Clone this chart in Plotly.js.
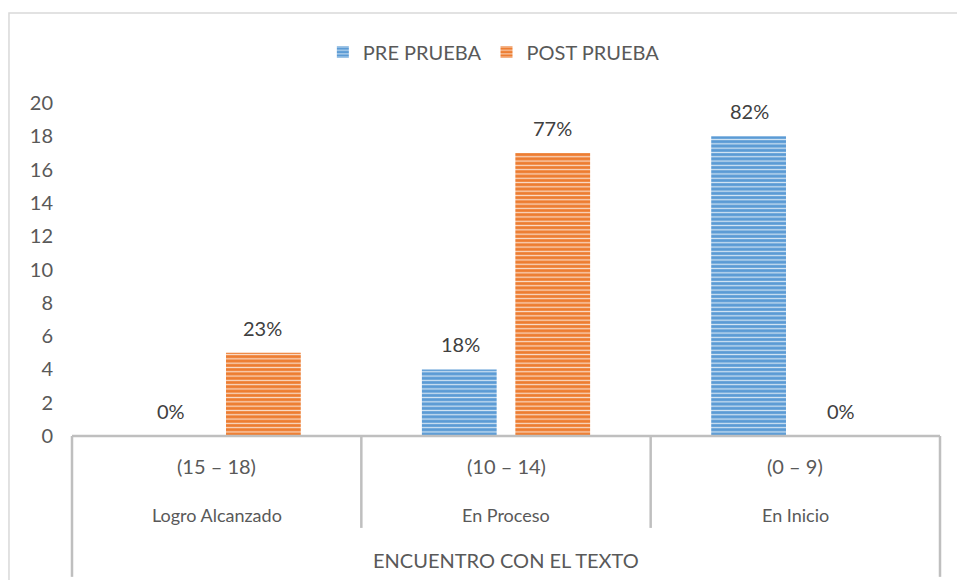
<!DOCTYPE html>
<html>
<head>
<meta charset="utf-8">
<script src="https://cdn.plot.ly/plotly-3.0.1.min.js"></script>
<style>html,body{margin:0;padding:0;background:#fff;}#chart{width:957px;height:580px;}</style>
</head>
<body>
<div id="chart"></div>
<script>
const categories = ["Logro Alcanzado", "En Proceso", "En Inicio"];
const ranges = ["(15 – 18)", "(10 – 14)", "(0 – 9)"];
const groupTitle = "ENCUENTRO CON EL TEXTO";
const preValues = [0, 4, 18];
const postValues = [5, 17, 0];
const preLabels = ["0%", "18%", "82%"];
const postLabels = ["23%", "77%", "0%"];
const seriesNames = ["PRE PRUEBA", "POST PRUEBA"];
const yTicks = [0, 2, 4, 6, 8, 10, 12, 14, 16, 18, 20];

const BLUE = "#5b9bd5", ORANGE = "#ed7d31";
const FONT = "Lato, 'Open Sans', sans-serif";
const TXT = "#595959";
const FS_NUM = 20, FS_MIX = 18, FS_CAPS = 20;

function barTrace(name, vals, color) {
  return {
    type: "bar", name: name, x: categories, y: vals,
    marker: {
      color: color,
      line: {width: 0},
      pattern: {shape: "-", fillmode: "overlay", bgcolor: color, fgcolor: "#ffffff", fgopacity: 0.75, size: 4.3, solidity: 0.28}
    },
    hoverinfo: "none"
  };
}

const traces = [barTrace(seriesNames[0], preValues, BLUE), barTrace(seriesNames[1], postValues, ORANGE)];

const annotations = [];
const offs = 46;
categories.forEach((c, i) => {
  annotations.push({x: c, y: preValues[i], xref: "x", yref: "y", text: preLabels[i], showarrow: false, xshift: -offs, yshift: 25, yanchor: "middle", font: {family: FONT, size: FS_NUM, color: "#404040"}});
  annotations.push({x: c, y: postValues[i], xref: "x", yref: "y", text: postLabels[i], showarrow: false, xshift: offs, yshift: 25, yanchor: "middle", font: {family: FONT, size: FS_NUM, color: "#404040"}});
  annotations.push({x: c, y: -0.09, xref: "x", yref: "paper", text: ranges[i], showarrow: false, yanchor: "middle", font: {family: FONT, size: FS_NUM, color: TXT}});
  annotations.push({x: c, y: -0.237, xref: "x", yref: "paper", text: categories[i], showarrow: false, yanchor: "middle", font: {family: FONT, size: FS_MIX, color: TXT}});
});
annotations.push({x: 0.5, y: -0.372, xref: "paper", yref: "paper", text: groupTitle, showarrow: false, yanchor: "middle", font: {family: FONT, size: FS_CAPS, color: TXT}});

const LINE = "#bfbfbf";
const shapes = [
  {type: "rect", xref: "paper", yref: "paper", x0: -0.0726, x1: 1.2, y0: -0.6, y1: 1.270, line: {color: "#d9d9d9", width: 1.5}},
  {type: "line", xref: "paper", yref: "paper", x0: 0, x1: 1, y0: 0, y1: 0, line: {color: LINE, width: 2.5}},
  {type: "line", xref: "paper", yref: "paper", x0: 0, x1: 0, y0: 0, y1: -0.423, line: {color: LINE, width: 2.5}},
  {type: "line", xref: "paper", yref: "paper", x0: 1, x1: 1, y0: 0, y1: -0.423, line: {color: LINE, width: 2.5}},
  {type: "line", xref: "paper", yref: "paper", x0: 1/3, x1: 1/3, y0: 0, y1: -0.276, line: {color: LINE, width: 2.5}},
  {type: "line", xref: "paper", yref: "paper", x0: 2/3, x1: 2/3, y0: 0, y1: -0.276, line: {color: LINE, width: 2.5}}
];

const layout = {
  width: 957, height: 580,
  margin: {l: 72, r: 17, t: 103, b: 144},
  paper_bgcolor: "#ffffff", plot_bgcolor: "#ffffff",
  barmode: "group", bargap: 0.354, bargroupgap: 0.2,
  showlegend: true,
  legend: {orientation: "h", x: 0.486, xanchor: "center", y: 1.153, yanchor: "middle", font: {family: FONT, size: FS_CAPS, color: TXT}, itemwidth: 30},
  xaxis: {type: "category", range: [-0.5, 2.5], showticklabels: false, showgrid: false, zeroline: false, showline: false, ticks: "", fixedrange: true},
  yaxis: {range: [0, 20], tickvals: yTicks, showgrid: false, zeroline: false, showline: false, ticks: "", ticklabelstandoff: 18, tickfont: {family: FONT, size: FS_NUM, color: TXT}, fixedrange: true},
  annotations: annotations,
  shapes: shapes
};

Plotly.newPlot("chart", traces, layout, {displayModeBar: false, staticPlot: true});
</script>
</body>
</html>
